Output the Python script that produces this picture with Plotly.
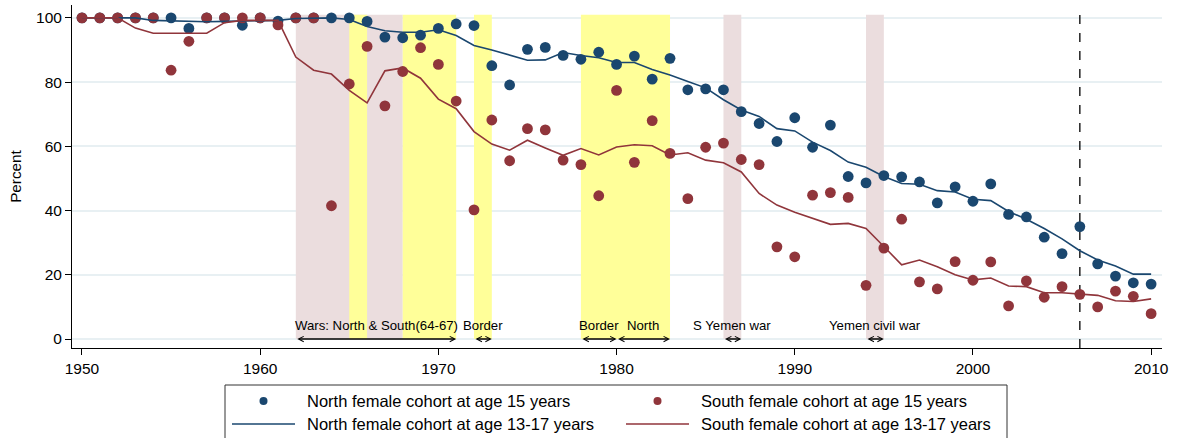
import plotly.graph_objects as go

years = list(range(1950, 2011))

north_15 = [100, 100, 100, 100, 100, 100, 96.7, 100, 100, 97.7,
            100, 99.0, 100, 100, 100, 100, 98.9, 94.0, 93.8, 94.6,
            96.7, 98.1, 97.6, 85.1, 79.1, 90.2, 90.8, 88.3, 87.1, 89.3,
            85.5, 88.1, 80.9, 87.4, 77.6, 77.9, 77.6, 70.8, 67.1, 61.5,
            68.9, 59.7, 66.6, 50.6, 48.6, 50.9, 50.5, 48.9, 42.4, 47.4,
            42.9, 48.3, 38.8, 38.0, 31.7, 26.6, 35.0, 23.4, 19.6, 17.5,
            17.1]

south_15 = [100, 100, 100, 100, 100, 83.7, 92.7, 100, 100, 100,
            100, 97.8, 100, 100, 41.5, 79.4, 91.1, 72.6, 83.3, 90.7,
            85.5, 74.1, 40.2, 68.2, 55.5, 65.5, 65.1, 55.7, 54.3, 44.6,
            77.4, 55.0, 68.0, 57.8, 43.7, 59.7, 61.0, 55.9, 54.3, 28.7,
            25.6, 44.8, 45.6, 44.1, 16.7, 28.3, 37.3, 17.8, 15.6, 24.1,
            18.3, 24.0, 10.3, 18.1, 13.0, 16.3, 13.9, 10.0, 14.9, 13.3,
            7.9]

north_13_17 = [100, 100, 100, 100, 99.2, 99.0, 99.0, 98.8, 98.9, 99.0,
               99.0, 99.2, 99.8, 100, 100, 99.5, 97.3, 96.0, 95.5, 95.5,
               96.3, 94.5, 91.4, 90.0, 88.5, 86.8, 86.9, 89.2, 88.3, 87.6,
               86.1, 86.1, 83.9, 82.2, 80.2, 78.2, 74.5, 71.3, 69.3, 65.5,
               64.8, 61.3, 58.7, 55.1, 53.5, 50.6, 48.4, 48.2, 46.2, 45.8,
               43.5, 43.1, 39.7, 37.3, 34.4, 31.2, 27.5, 24.6, 22.7, 20.2,
               20.2]

south_13_17 = [100, 100, 100, 96.8, 95.2, 95.2, 95.2, 95.2, 98.5, 99.2,
               99.2, 99.2, 87.8, 83.7, 82.5, 77.4, 73.5, 83.5, 84.4, 81.2,
               74.7, 71.7, 64.6, 60.7, 58.8, 61.9, 59.5, 57.2, 59.3, 57.3,
               59.8, 60.5, 60.2, 57.3, 58.0, 55.7, 54.9, 52.0, 45.3, 41.7,
               39.5, 37.5, 35.7, 36.0, 34.4, 28.8, 23.1, 24.6, 22.5, 20.0,
               18.4, 19.0, 16.5, 16.3, 14.4, 14.4, 13.9, 13.6, 11.9, 11.7,
               12.5]

# shaded periods (start, end)
pink_periods = [(1962, 1968), (1986, 1987), (1994, 1995)]
yellow_periods = [(1965, 1966), (1968, 1971), (1972, 1973), (1978, 1983)]

# conflict labels with arrow span
events = [
    ("Wars: North & South(64-67)", 1962, 1971),
    ("Border", 1972, 1973),
    ("Border", 1978, 1980),
    ("North", 1980, 1983),
    ("S Yemen war", 1986, 1987),
    ("Yemen civil war", 1994, 1995),
]
cutoff_year = 2006

BLUE = "#1A476F"
RED = "#90353B"
PINK = "#EBDDDE"
YELLOW = "#FFFF99"
FONT = "Liberation Sans, Arial, sans-serif"

names = ["North female cohort at age 15 years", "South female cohort at age 15 years",
         "North female cohort at age 13-17 years", "South female cohort at age 13-17 years"]

fig = go.Figure()
fig.add_trace(go.Scatter(x=years, y=north_15, mode="markers", name=names[0],
                         marker=dict(color=BLUE, size=10.8)))
fig.add_trace(go.Scatter(x=years, y=south_15, mode="markers", name=names[1],
                         marker=dict(color=RED, size=10.8)))
fig.add_trace(go.Scatter(x=years, y=north_13_17, mode="lines", name=names[2],
                         line=dict(color=BLUE, width=1.6)))
fig.add_trace(go.Scatter(x=years, y=south_13_17, mode="lines", name=names[3],
                         line=dict(color=RED, width=1.6)))

for x0, x1 in pink_periods:
    fig.add_shape(type="rect", x0=x0, x1=x1, y0=0, y1=101, xref="x", yref="y",
                  fillcolor=PINK, line_width=0, layer="between")
for x0, x1 in yellow_periods:
    fig.add_shape(type="rect", x0=x0, x1=x1, y0=0, y1=101, xref="x", yref="y",
                  fillcolor=YELLOW, line_width=0, layer="between")

fig.add_shape(type="line", x0=cutoff_year, x1=cutoff_year, y0=-2.8, y1=101,
              xref="x", yref="y", line=dict(color="black", width=1.3, dash="dash"),
              layer="between")

for label, x0, x1 in events:
    fig.add_annotation(x=x1, y=0, ax=x0, ay=0, xref="x", yref="y", axref="x", ayref="y",
                       text="", showarrow=True, arrowside="end+start", arrowhead=5,
                       arrowsize=0.8, arrowwidth=1.3, arrowcolor="black", standoff=0,
                       startstandoff=0)
    fig.add_annotation(x=(x0 + x1) / 2, y=4.1, xref="x", yref="y", text=label,
                       showarrow=False, font=dict(family=FONT, size=13.2, color="black"))

# manual legend below the plot (two columns)
L, T, W, H = 72, 5, 1090, 343


def px(x):
    return (x - L) / W


def py(y):
    return (T + H - y) / H


fig.add_shape(type="rect", xref="paper", yref="paper", x0=px(225), x1=px(1007),
              y0=py(385), y1=py(460), line=dict(color="#333333", width=1))
cols = [(232, 295, 305), (626, 689, 699)]
rows = [401, 424]
colors = [BLUE, RED]
for i, name in enumerate(names):
    c0, c1, tx = cols[i % 2]
    ry = rows[i // 2]
    col = colors[i % 2]
    if i < 2:
        fig.add_shape(type="circle", xref="paper", yref="paper", xsizemode="pixel",
                      ysizemode="pixel", xanchor=px((c0 + c1) / 2), yanchor=py(ry),
                      x0=-4, x1=4, y0=-4, y1=4, fillcolor=col, line_width=0)
    else:
        fig.add_shape(type="line", xref="paper", yref="paper", x0=px(c0), x1=px(c1),
                      y0=py(ry), y1=py(ry), line=dict(color=col, width=1.6))
    fig.add_annotation(x=px(tx), y=py(ry), xref="paper", yref="paper", text=name,
                       showarrow=False, xanchor="left", yanchor="middle",
                       font=dict(family=FONT, size=16.5, color="black"))

fig.update_xaxes(range=[1949.44, 2010.61], tickvals=list(range(1950, 2011, 10)),
                 ticks="outside", ticklen=6, tickcolor="black", showline=True,
                 linecolor="black", linewidth=1, showgrid=False, zeroline=False,
                 tickfont=dict(family=FONT, size=15.5, color="black"))
fig.update_yaxes(range=[-2.8, 104], tickvals=list(range(0, 101, 20)),
                 ticks="outside", ticklen=6, tickcolor="black", showline=True,
                 linecolor="black", linewidth=1, showgrid=True, gridcolor="#E8F0F3",
                 gridwidth=1.5, zeroline=False,
                 tickfont=dict(family=FONT, size=15.5, color="black"),
                 title=dict(text="Percent", standoff=10,
                            font=dict(family=FONT, size=15.3, color="black")))

fig.update_layout(width=1178, height=438, margin=dict(l=72, r=16, t=5, b=90),
                  plot_bgcolor="white", paper_bgcolor="white", showlegend=False,
                  font=dict(family=FONT))

fig.write_html("out.html", config={"displayModeBar": False},
               post_script="document.body.style.margin='0px';")
